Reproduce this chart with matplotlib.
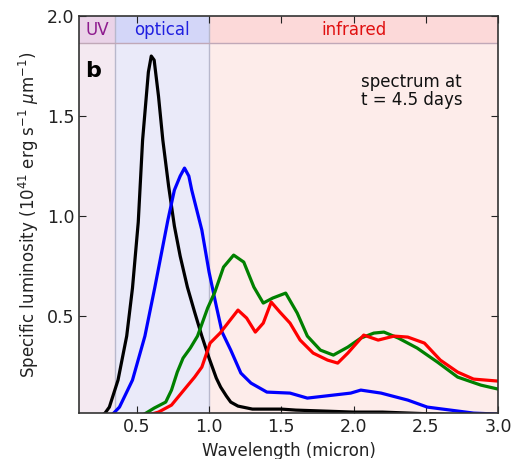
import matplotlib
matplotlib.use("Agg")
import matplotlib.pyplot as plt

# ---- data ----
black_x = [0.25, 0.28, 0.31, 0.37, 0.43, 0.47, 0.51, 0.54, 0.58, 0.60, 0.62, 0.65, 0.68, 0.72, 0.76,
           0.80, 0.85, 0.90, 0.95, 1.00, 1.05, 1.08, 1.12, 1.15, 1.20, 1.30, 1.40, 1.50, 1.60, 1.80,
           2.00, 2.20, 2.50, 2.80, 3.00]
black_y = [0.0, 0.015, 0.045, 0.18, 0.40, 0.64, 0.97, 1.38, 1.72, 1.80, 1.78, 1.60, 1.38, 1.15, 0.95,
           0.80, 0.645, 0.52, 0.40, 0.29, 0.19, 0.145, 0.10, 0.07, 0.05, 0.035, 0.035, 0.035, 0.03, 0.025,
           0.02, 0.02, 0.012, 0.005, 0.005]

blue_x = [0.32, 0.38, 0.47, 0.556, 0.625, 0.715, 0.76, 0.80, 0.83, 0.86, 0.88, 0.95, 1.00, 1.05, 1.09,
          1.15, 1.22, 1.29, 1.40, 1.56, 1.68, 1.86, 1.98, 2.05, 2.19, 2.375, 2.51, 2.67, 2.83, 3.00]
blue_y = [0.0, 0.045, 0.18, 0.40, 0.645, 0.98, 1.13, 1.20, 1.24, 1.20, 1.13, 0.93, 0.72, 0.55, 0.42,
          0.33, 0.215, 0.165, 0.12, 0.115, 0.09, 0.105, 0.115, 0.13, 0.115, 0.08, 0.045, 0.03, 0.015, 0.01]

green_x = [0.53, 0.62, 0.70, 0.74, 0.78, 0.82, 0.87, 0.92, 0.99, 1.04, 1.10, 1.17, 1.24, 1.31, 1.375,
           1.44, 1.53, 1.61, 1.68, 1.77, 1.86, 1.96, 2.05, 2.14, 2.21, 2.31, 2.44, 2.58, 2.72, 2.88, 3.00]
green_y = [0.0, 0.04, 0.07, 0.13, 0.22, 0.29, 0.34, 0.40, 0.54, 0.62, 0.745, 0.805, 0.77, 0.645, 0.565,
           0.59, 0.615, 0.515, 0.40, 0.33, 0.305, 0.345, 0.39, 0.415, 0.42, 0.39, 0.34, 0.27, 0.195, 0.155, 0.135]

red_x = [0.555, 0.65, 0.74, 0.854, 0.90, 0.95, 1.007, 1.076, 1.146, 1.20, 1.26, 1.32, 1.375, 1.43, 1.49,
         1.56, 1.63, 1.72, 1.82, 1.89, 1.96, 2.07, 2.17, 2.28, 2.375, 2.49, 2.60, 2.72, 2.83, 3.00]
red_y = [0.0, 0.02, 0.055, 0.155, 0.195, 0.245, 0.365, 0.415, 0.48, 0.53, 0.49, 0.42, 0.465, 0.57, 0.52,
         0.465, 0.38, 0.315, 0.28, 0.265, 0.315, 0.405, 0.38, 0.40, 0.395, 0.365, 0.28, 0.22, 0.185, 0.175]

bands = ["UV", "optical", "infrared"]
band_edges = [0.1, 0.35, 1.0, 3.0]
xticks = [0.5, 1.0, 1.5, 2.0, 2.5, 3.0]
yticks = [0.5, 1.0, 1.5, 2.0]

# ---- styling ----
band_body = ["#f4e9f1", "#eaeaf9", "#fdecea"]
band_head = ["#ead3e8", "#d3d6f8", "#fcd9d9"]
band_text = ["#8e1b8e", "#2020e0", "#e01010"]
header_bottom = 1.865

fig = plt.figure(figsize=(5.13, 4.59), dpi=100)
ax = fig.add_axes([0.154, 0.100, 0.817, 0.865])
ax.set_xlim(0.1, 3.0)
ax.set_ylim(0.015, 2.0)

for i, name in enumerate(bands):
    x0, x1 = band_edges[i], band_edges[i + 1]
    ax.axvspan(x0, x1, ymax=1, color=band_body[i], zorder=0, lw=0)
    ax.fill_between([x0, x1], header_bottom, 2.0, color=band_head[i], zorder=0.5, lw=0)
    ax.text((x0 + x1) / 2, (header_bottom + 2.0) / 2, name, color=band_text[i],
            ha="center", va="center", fontsize=12, zorder=3)
for xe in band_edges[1:-1]:
    ax.axvline(xe, color="#b8b8cc", lw=1.0, zorder=1)
ax.axhline(header_bottom, color="#c0a8b8", lw=1.0, zorder=1)

lw = 2.3
ax.plot(black_x, black_y, color="black", lw=lw, zorder=2)
ax.plot(blue_x, blue_y, color="blue", lw=lw, zorder=2)
ax.plot(green_x, green_y, color="green", lw=lw, zorder=2)
ax.plot(red_x, red_y, color="red", lw=lw, zorder=2)

ax.text(0.14, 1.725, "b", fontsize=16, fontweight="bold", ha="left", va="center")
ax.text(2.05, 1.625, "spectrum at\nt = 4.5 days", fontsize=12, ha="left", va="center",
        linespacing=1.05, color="#111111")

ax.set_xticks(xticks)
ax.set_yticks(yticks)
ax.set_xticklabels([f"{v:.1f}" for v in xticks])
ax.set_yticklabels([f"{v:.1f}" for v in yticks])
ax.tick_params(direction="in", top=True, right=True, length=5, labelsize=12.5, colors="#222222")
ax.set_xlabel("Wavelength (micron)", fontsize=12, color="#222222")
ax.set_ylabel(r"Specific luminosity ($10^{41}$ erg s$^{-1}$ $\mu$m$^{-1}$)", fontsize=12,
              color="#222222")
for s in ax.spines.values():
    s.set_color("#333333")
    s.set_linewidth(1.2)

fig.savefig("out.png", dpi=100)
